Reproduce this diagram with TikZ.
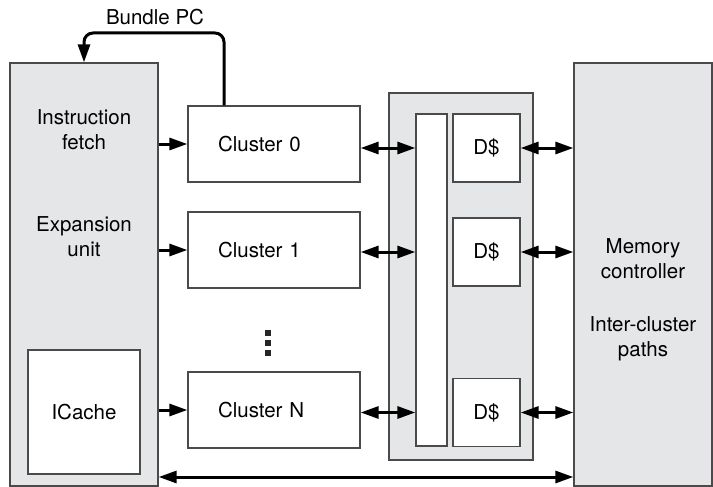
\documentclass[tikz,border=0pt]{standalone}
\usepackage{fontspec}
\setmainfont{TeX Gyre Heros}
\usetikzlibrary{arrows.meta}
\definecolor{boxgray}{HTML}{E5E6E8}
\definecolor{edgecol}{HTML}{4A4A4A}

\begin{document}
\begin{tikzpicture}[x=1pt,y=-1pt,>={Triangle[length=18pt,width=12pt]},
  font=\fontsize{20.5}{25}\selectfont,
  unit/.style={draw=edgecol,line width=1.3pt,fill=boxgray,inner sep=0pt},
  blk/.style={draw=edgecol,line width=1.3pt,fill=white,inner sep=0pt},
  cl/.style={blk,minimum height=76pt,text width=112pt,inner xsep=30pt,align=left},
  dc/.style={blk,minimum width=67pt,minimum height=68pt},
  lbl/.style={align=center,inner sep=0pt},
  link/.style={line width=3pt},
  dot/.style={fill=black!85,minimum size=6pt,inner sep=0pt}]
\useasboundingbox (0,0) rectangle (713,487);
% big side units
\node[unit,minimum width=148pt,minimum height=423pt] (fetch) at (84,274.5) {};
\node[unit,minimum width=138pt,minimum height=423pt] (memctl) at (643,274.5) {};
\node[blk,minimum width=112pt,minimum height=124pt] (icache) at (84,412) {ICache};
\node[lbl] (ifl) at (84,130) {Instruction\\fetch};
\node[lbl] (exl) at (84,237) {Expansion\\unit};
\node[lbl] (mcl) at (643,259) {Memory\\controller};
\node[lbl] (icl) at (643,339) {Inter-cluster\\paths};
% clusters
\node[cl] (c0) at (274,144) {Cluster 0};
\node[cl] (c1) at (274,250) {Cluster 1};
\node[cl] (cN) at (274,410) {Cluster N};
\foreach \i in {0,1,2}
  \node[dot] (dot\i) at (268,333+10*\i) {};
% data cache unit
\node[unit,minimum width=144pt,minimum height=367pt] (dunit) at (461,276.5) {};
\node[blk,minimum width=31pt,minimum height=332pt] (bus) at (431.5,280) {};
\node[dc] (d0) at (486.5,148) {D\$};
\node[dc] (d1) at (486.5,252) {D\$};
\node[dc] (dN) at (486.5,412.5) {D\$};
% issue arrows
\foreach \c in {c0,c1,cN}
  \draw[->,link] (\c.west -| fetch.east) -- (\c.west);
% cluster <-> bus <-> memory
\foreach \d/\c in {d0/c0,d1/c1,dN/cN}{
  \draw[<->,link] (\d -| \c.east) -- (\d -| bus.west);
  \draw[<->,link] (\d.east) -- (\d -| memctl.west);
}
% bottom path
\coordinate (bot) at (360,477);
\draw[<->,link] (fetch.east |- bot) -- (memctl.west |- bot);
% bundle PC feedback
\coordinate (pc) at (224,33);
\draw[->,link,rounded corners=9pt] (c0.north -| pc) -- (pc) -- (fetch.north |- pc) -- (fetch.north);
\node[lbl] (pcl) at (155,17) {Bundle PC};
\end{tikzpicture}
\end{document}
